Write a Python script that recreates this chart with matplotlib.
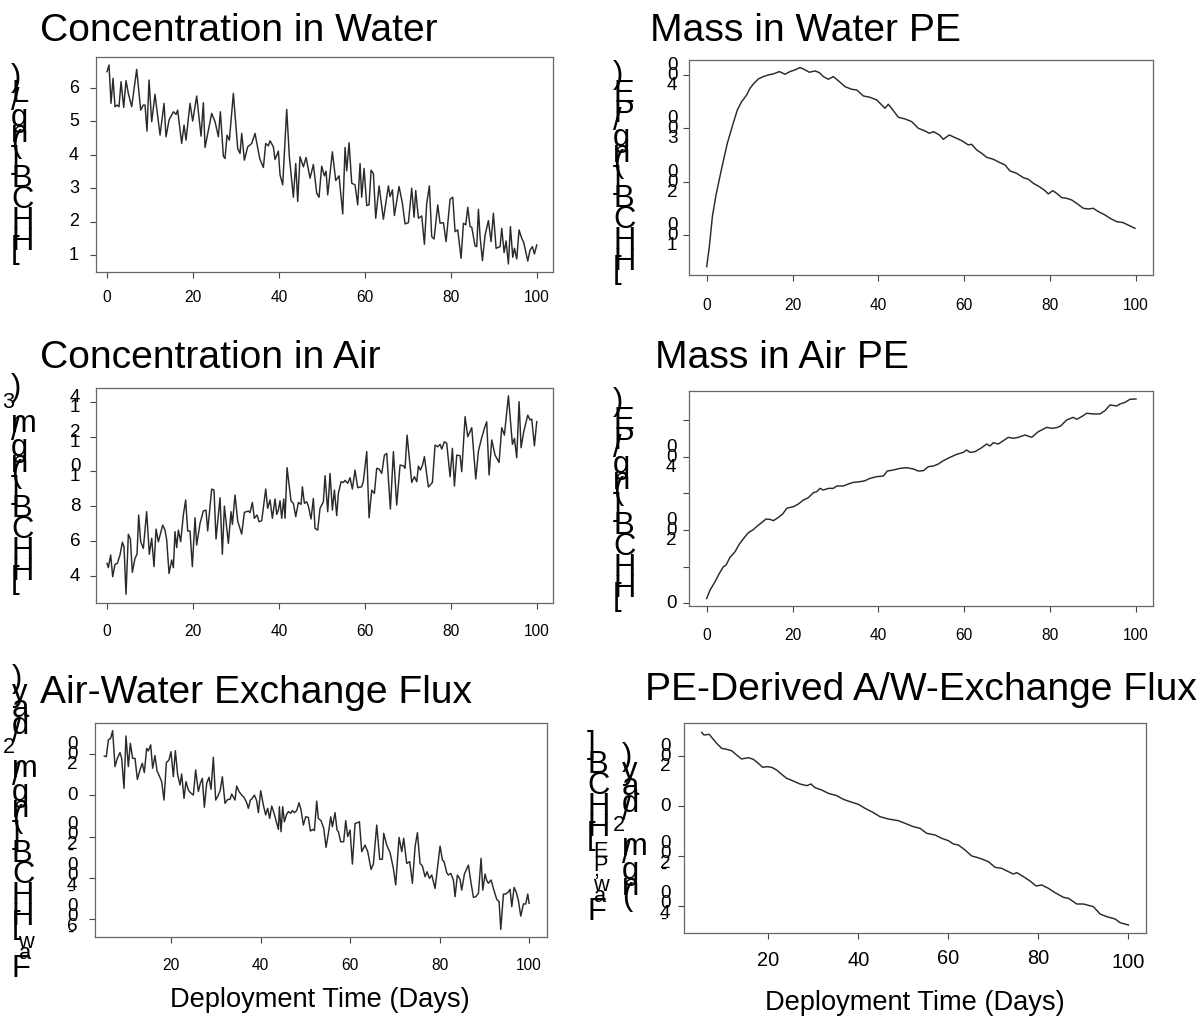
import matplotlib
matplotlib.use('Agg')
import matplotlib.pyplot as plt
from matplotlib.transforms import IdentityTransform

# ---------------- data ----------------
# Concentration in Water
days_cw = [0.00, 0.47, 0.93, 1.40, 1.86, 2.33, 2.79, 3.26, 3.88, 4.42,
           4.96, 5.74, 6.90, 7.83, 8.45, 8.84, 9.30, 9.77, 10.39, 11.16,
           12.33, 13.26, 13.72, 14.42, 15.43, 16.05, 16.43, 17.36, 17.91, 18.37,
           19.30, 19.92, 20.85, 21.86, 22.40, 22.79, 24.34, 25.12, 25.89, 26.36,
           27.05, 27.44, 27.91, 28.45, 29.38, 30.39, 30.93, 31.32, 31.94, 32.71,
           33.64, 34.42, 35.50, 36.36, 36.90, 37.52, 37.91, 38.68, 39.07, 39.84,
           40.23, 40.85, 41.78, 42.40, 43.33, 43.88, 44.34, 44.88, 45.66, 46.28,
           47.21, 47.98, 48.76, 49.30, 49.92, 50.54, 50.93, 51.32, 52.40, 53.18,
           53.95, 54.81, 55.35, 55.74, 56.28, 56.90, 57.67, 58.29, 58.84, 59.22,
           59.77, 60.39, 60.93, 61.40, 61.94, 62.48, 63.26, 64.26, 65.43, 65.81,
           66.36, 66.82, 67.91, 68.68, 69.30, 70.08, 70.85, 71.40, 71.78, 72.40,
           73.18, 73.80, 74.34, 74.96, 75.50, 76.05, 76.90, 77.44, 78.22, 78.84,
           79.77, 80.39, 80.93, 81.55, 82.33, 82.87, 83.41, 83.88, 84.42, 84.81,
           85.58, 85.97, 86.36, 86.74, 87.29, 87.91, 88.68, 89.30, 89.84, 90.47,
           91.40, 91.78, 92.33, 92.79, 93.33, 93.80, 94.34, 94.73, 95.27, 95.81,
           96.43, 96.90, 97.83, 98.37, 98.91, 99.38, 99.92]
conc_water = [6.49, 6.69, 5.54, 6.29, 5.44, 5.49, 5.44, 6.19, 5.42, 6.22,
              5.84, 5.44, 6.56, 5.34, 5.49, 5.49, 4.71, 6.24, 4.99, 5.81,
              4.59, 5.54, 4.54, 5.04, 5.29, 5.21, 5.34, 4.34, 4.89, 4.44,
              5.54, 5.01, 5.76, 4.56, 5.56, 4.22, 5.24, 4.99, 4.54, 5.29,
              3.96, 3.89, 4.59, 4.44, 5.84, 4.19, 4.04, 4.64, 3.84, 4.24,
              4.34, 4.64, 3.89, 3.62, 4.34, 4.27, 4.42, 4.24, 3.86, 4.11,
              3.40, 3.10, 5.36, 3.94, 2.73, 3.74, 2.60, 3.94, 3.64, 3.92,
              3.30, 3.71, 2.85, 2.73, 3.66, 3.37, 3.51, 2.80, 4.09, 3.23,
              3.37, 2.23, 4.22, 3.52, 4.36, 3.15, 3.10, 2.50, 3.74, 2.73,
              3.59, 2.48, 2.50, 3.54, 3.44, 2.10, 3.07, 2.07, 3.07, 2.75,
              2.95, 2.18, 3.05, 2.55, 1.93, 1.97, 3.00, 2.13, 2.93, 2.10,
              2.17, 1.32, 2.55, 3.07, 1.55, 1.48, 2.50, 1.95, 1.97, 1.40,
              2.67, 2.73, 1.70, 1.75, 0.90, 1.95, 1.90, 2.43, 1.85, 1.83,
              1.27, 1.25, 2.37, 1.55, 0.83, 1.60, 2.03, 1.40, 2.25, 1.20,
              1.25, 1.80, 1.07, 1.42, 0.73, 1.85, 0.93, 1.20, 0.88, 1.75,
              1.50, 1.37, 0.82, 1.15, 1.25, 1.03, 1.30]

# Concentration in Air
days_ca = [0.00, 0.31, 0.85, 1.32, 1.86, 2.40, 3.02, 3.57, 3.95, 4.42,
           4.96, 5.43, 5.89, 6.51, 6.98, 7.36, 7.83, 8.45, 9.22, 9.84,
           10.39, 10.93, 11.40, 11.94, 12.95, 13.49, 13.88, 14.42, 15.04, 15.43,
           15.81, 16.20, 16.59, 17.13, 17.75, 18.29, 18.76, 19.30, 19.84, 20.47,
           20.85, 21.63, 22.40, 23.02, 23.41, 24.34, 24.88, 25.35, 26.28, 26.82,
           27.29, 28.22, 28.84, 29.15, 29.77, 30.39, 31.32, 31.94, 32.87, 33.26,
           33.80, 34.26, 34.88, 35.35, 35.97, 36.90, 37.36, 37.91, 38.45, 39.07,
           39.46, 39.84, 40.23, 40.62, 41.09, 41.40, 41.86, 42.79, 43.33, 43.88,
           44.50, 45.12, 45.43, 45.89, 46.43, 46.82, 47.44, 47.98, 48.37, 48.99,
           49.53, 50.31, 50.70, 51.32, 51.86, 52.40, 52.87, 53.41, 53.80, 54.42,
           54.96, 55.35, 55.97, 56.51, 57.05, 57.67, 58.29, 59.22, 59.61, 60.39,
           60.93, 61.55, 62.17, 62.71, 63.26, 63.88, 64.50, 65.04, 65.89, 66.59,
           67.36, 68.14, 68.91, 69.30, 69.77, 70.85, 71.47, 72.02, 72.40, 72.87,
           73.41, 73.80, 74.73, 75.66, 76.28, 76.90, 77.44, 77.83, 78.45, 78.99,
           79.77, 80.31, 80.78, 81.32, 82.09, 82.48, 83.26, 83.88, 84.81, 85.74,
           86.36, 86.98, 87.75, 88.29, 88.84, 89.46, 90.23, 91.16, 91.78, 92.40,
           93.33, 94.26, 94.73, 95.27, 95.81, 96.28, 96.90, 97.83, 98.37, 98.76,
           99.38, 99.92]
conc_air = [4.71, 4.46, 5.19, 3.94, 4.65, 4.71, 5.19, 5.92, 5.67, 2.93,
            6.38, 6.11, 4.19, 5.00, 5.23, 7.49, 5.95, 5.57, 7.68, 5.23,
            6.15, 4.52, 6.68, 5.95, 6.91, 6.62, 6.05, 4.13, 4.90, 4.46,
            6.53, 5.61, 6.62, 5.95, 7.49, 8.35, 6.57, 6.57, 4.52, 7.33,
            5.76, 7.01, 7.72, 7.77, 6.57, 8.98, 8.92, 6.11, 8.48, 5.23,
            8.00, 5.86, 7.68, 6.95, 8.64, 7.14, 6.39, 7.64, 7.72, 7.62,
            8.21, 7.30, 7.49, 7.10, 7.16, 8.98, 7.87, 8.35, 7.30, 8.41,
            7.52, 7.77, 8.31, 7.30, 8.41, 7.30, 10.21, 8.29, 8.16, 7.39,
            8.21, 8.10, 9.11, 8.16, 8.25, 8.00, 7.26, 8.44, 6.72, 6.62,
            7.87, 8.25, 9.75, 7.68, 9.88, 7.77, 8.92, 7.45, 8.73, 9.40,
            9.36, 9.48, 9.31, 9.63, 8.98, 10.07, 9.06, 9.11, 9.44, 11.13,
            7.33, 8.92, 8.73, 10.17, 10.13, 9.88, 10.93, 11.03, 7.83, 11.13,
            8.06, 10.36, 10.32, 10.17, 12.08, 9.36, 9.69, 9.40, 10.30, 10.07,
            10.40, 10.84, 9.10, 9.36, 11.51, 11.41, 11.55, 11.28, 11.70, 11.61,
            9.69, 11.32, 9.15, 10.93, 10.90, 9.98, 13.14, 11.99, 12.51, 9.56,
            11.16, 11.80, 12.47, 12.85, 9.79, 11.80, 10.93, 10.51, 12.51, 12.08,
            14.34, 11.55, 11.89, 10.78, 14.00, 11.36, 12.28, 13.23, 12.95, 13.00,
            11.47, 12.85]

# Air-Water Exchange Flux
days_fx = [5.10, 5.55, 6.00, 6.52, 6.96, 7.49, 8.01, 8.60, 8.98, 9.50,
           9.94, 10.47, 10.91, 11.43, 11.96, 12.48, 13.07, 13.59, 14.04, 14.56,
           14.93, 15.46, 15.90, 16.42, 16.87, 17.39, 17.91, 18.44, 18.96, 19.55,
           20.00, 20.52, 20.97, 21.49, 22.01, 22.38, 22.91, 23.35, 23.87, 24.32,
           24.99, 25.51, 26.11, 26.55, 27.00, 27.45, 27.97, 28.49, 28.94, 29.46,
           29.98, 30.58, 31.02, 31.47, 32.07, 32.66, 33.18, 33.56, 34.30, 34.67,
           35.20, 35.79, 36.31, 36.91, 37.28, 37.73, 38.03, 38.62, 39.14, 39.52,
           40.04, 40.63, 41.15, 41.60, 42.05, 42.50, 43.02, 43.39, 43.99, 44.21,
           44.58, 44.95, 45.33, 45.77, 46.22, 46.74, 47.11, 47.56, 48.08, 48.60,
           49.05, 49.57, 50.09, 50.69, 51.14, 51.66, 52.03, 52.55, 52.92, 53.52,
           54.12, 54.64, 55.16, 55.68, 56.05, 56.65, 57.09, 57.39, 57.91, 58.58,
           59.03, 59.48, 60.00, 60.52, 61.12, 61.64, 62.09, 62.61, 63.35, 63.95,
           64.69, 65.21, 65.96, 66.63, 67.23, 67.52, 68.19, 68.94, 69.68, 70.20,
           70.95, 71.55, 71.99, 72.66, 73.33, 73.93, 74.53, 75.05, 75.64, 76.16,
           76.76, 77.21, 77.73, 78.25, 78.99, 80.11, 80.63, 81.01, 81.60, 81.97,
           82.50, 83.09, 83.46, 83.98, 84.58, 84.95, 85.55, 86.44, 87.04, 87.56,
           88.08, 88.68, 89.27, 89.65, 90.17, 90.54, 90.91, 91.51, 92.03, 92.77,
           93.30, 93.67, 94.27, 94.79, 95.39, 95.75, 96.13, 96.65, 97.09, 97.62,
           98.14, 98.73, 99.25, 99.70, 100.00]
flux_aw = [190, 187, 268, 276, 313, 139, 179, 207, 179, 34,
           287, 139, 252, 179, 179, 77, 123, 155, 110, 227,
           215, 244, 131, 192, 119, 94, 66, -23, 158, 171,
           211, 90, 216, 98, 50, 103, -15, 66, 26, 13,
           1, 123, 18, 58, 82, -58, 58, 87, 29, 184,
           -23, 1, 26, 90, -39, -20, -20, 6, -23, 45,
           18, 1, -10, -36, -63, -23, -18, 1, -26, -84,
           22, -47, -95, -63, -112, -52, -87, -116, -165, -55,
           -176, -55, -128, -95, -79, -87, -74, -84, -74, -36,
           -71, -144, -104, -107, -173, -165, -171, -28, -112, -123,
           -160, -252, -184, -104, -152, -84, -168, -176, -225, -225,
           -123, -200, -168, -333, -136, -133, -128, -273, -241, -273,
           -359, -333, -144, -310, -310, -184, -241, -278, -354, -434,
           -204, -273, -208, -330, -321, -426, -249, -181, -330, -342,
           -394, -370, -402, -386, -451, -246, -313, -321, -375, -386,
           -378, -410, -491, -386, -407, -459, -381, -338, -426, -494,
           -491, -475, -305, -459, -381, -413, -426, -410, -451, -504,
           -515, -649, -478, -478, -467, -455, -539, -446, -467, -510,
           -585, -526, -526, -478, -523]

# Mass in Water PE
days_mw = [0, 0.62, 1.32, 2.17, 3.49, 4.81, 6.06, 7.14, 8.15, 9.32,
           10.09, 11.02, 12.03, 13.20, 14.36, 15.53, 16.93, 18.25, 19.41, 20.57,
           21.74, 22.67, 23.91, 25.23, 26.24, 27.17, 28.34, 29.50, 30.90, 32.22,
           33.77, 34.94, 36.49, 38.04, 39.60, 40.76, 41.54, 42.31, 43.48, 44.64,
           46.20, 47.75, 49.30, 50.85, 51.86, 52.80, 54.19, 55.12, 56.52, 57.84,
           59.39, 60.95, 61.72, 62.89, 64.05, 65.22, 66.77, 68.32, 69.49, 70.65,
           72.20, 73.76, 74.92, 76.09, 77.48, 78.80, 79.58, 80.59, 81.52, 82.69,
           83.85, 85.02, 86.18, 87.73, 88.90, 90.06, 91.23, 92.78, 93.94, 95.50,
           97.05, 98.60, 99.77]
mass_water = [40.6, 78.1, 134.4, 175, 225, 271.9, 306.3, 334.4, 350, 362.5,
              375, 384.4, 392.5, 396.9, 400, 401.9, 406.3, 401.3, 406.3, 409.4,
              413.8, 410.6, 405, 407.5, 404.4, 396.9, 391.9, 396.9, 387.5, 378.1,
              373.1, 371.9, 360.6, 358.1, 353.1, 343.8, 337.5, 345, 333.1, 320.6,
              317.5, 312.5, 300, 295, 290.6, 293.8, 287.5, 279.4, 287.5, 282.5,
              276.9, 268.8, 270, 259.4, 253.1, 245.6, 241.9, 235.6, 231.3, 220,
              215.6, 207.5, 204.4, 196.9, 190.6, 183.1, 176.9, 183.1, 178.1, 170,
              168.8, 165.6, 159.4, 150, 148.8, 150, 143.8, 137.5, 131.3, 125,
              123.1, 116.9, 112.5]

# Mass in Air PE
days_ma = [0, 0.78, 1.94, 2.95, 3.88, 4.50, 5.43, 6.60, 7.61, 8.93,
           9.70, 10.71, 11.80, 13.04, 13.82, 14.75, 15.53, 16.69, 17.70, 18.63,
           19.41, 20.19, 21.35, 22.52, 23.68, 24.84, 25.62, 26.40, 27.17, 28.34,
           29.50, 30.28, 31.83, 33.00, 34.16, 35.71, 36.88, 38.04, 39.60, 41.15,
           42.08, 43.48, 45.03, 46.58, 48.14, 49.30, 50.47, 51.63, 52.80, 53.96,
           55.12, 56.68, 58.23, 59.78, 60.56, 61.34, 62.50, 64.05, 65.22, 66.00,
           66.77, 67.93, 69.10, 70.26, 71.43, 72.59, 74.15, 75.70, 77.25, 79.19,
           80.36, 81.52, 82.45, 83.85, 85.40, 86.18, 87.34, 88.51, 90.06, 91.61,
           92.78, 93.94, 95.50, 96.27, 97.44, 98.60, 100.0]
mass_air = [13.6, 36.4, 59.1, 81.8, 100, 104.5, 125.5, 140.9, 161.8, 181.8,
            192.7, 200, 210.9, 222.7, 230, 229.1, 225.5, 234.5, 243.6, 259.1,
            261.8, 263.6, 270.9, 281.8, 288.2, 301.8, 304.5, 313.6, 309.1, 313.6,
            313.6, 320, 320, 325.5, 330, 331.8, 334.5, 340.9, 345.5, 347.3,
            360.9, 363.6, 368.2, 370, 366.4, 360.9, 361.8, 372.7, 374.5, 380,
            389.1, 398.2, 406.4, 411.8, 418.2, 411.8, 413.6, 424.5, 434.5, 429.1,
            438.2, 434.5, 443.6, 452.7, 450, 452.7, 459.1, 452.7, 468.2, 480,
            477.3, 479.1, 483.6, 500, 507.3, 501.8, 509.1, 518.2, 516.4, 516.4,
            525.5, 540.9, 538.2, 543.6, 548.2, 556.4, 557.3]

# PE-Derived A/W-Exchange Flux
days_pf = [5.19, 5.70, 6.89, 7.41, 8.52, 9.63, 10.74, 11.85, 12.96, 14.07,
           15.56, 16.67, 17.78, 18.74, 19.78, 20.74, 21.85, 22.96, 24.07, 25.56,
           27.04, 28.52, 29.48, 30.37, 31.85, 33.33, 35.19, 36.67, 38.15, 40.00,
           41.48, 42.96, 44.81, 46.67, 48.89, 50.74, 52.22, 53.70, 55.19, 57.04,
           58.52, 60.00, 61.11, 62.22, 63.70, 65.19, 66.30, 67.41, 68.89, 70.37,
           71.85, 73.33, 74.44, 75.19, 76.67, 78.15, 79.48, 80.74, 82.22, 83.70,
           85.56, 86.67, 88.52, 90.00, 92.22, 93.70, 95.19, 97.04, 98.15, 100.0]
flux_pe = [294.7, 284, 286.7, 274.7, 250.7, 230.7, 226.7, 221.3, 204, 188,
           193.3, 186.7, 170.7, 154.7, 157.3, 154.7, 144, 126.7, 110.7, 100,
           88, 81.3, 88, 73.3, 64, 50.7, 41.3, 26.7, 17.3, 6.7,
           -9.3, -22.7, -42.7, -52, -58.7, -72, -82.7, -89.3, -109.3, -116,
           -129.3, -138.7, -152, -156, -176, -200, -205.3, -212, -222.7, -245.3,
           -249.3, -262.7, -272, -266.7, -282.7, -300, -320, -316, -329.3, -346.7,
           -365.3, -369.3, -392, -392, -402.7, -432, -442.7, -452, -466.7, -476]

titles = ["Concentration in Water", "Mass in Water PE", "Concentration in Air",
          "Mass in Air PE", "Air-Water Exchange Flux", "PE-Derived A/W-Exchange Flux"]
xlabel_text = "Deployment Time (Days)"

# ---------------- figure ----------------
W, H = 1199, 1016
FONT = 'Liberation Sans'
plt.rcParams['font.family'] = [FONT, 'DejaVu Sans']
fig = plt.figure(figsize=(W / 100, H / 100), dpi=100)
ID = IdentityTransform()

ADV = {'[': 0.278, ']': 0.278, '(': 0.333, ')': 0.333, 'H': 0.722, 'C': 0.722,
       'B': 0.667, ' ': 0.278, 'n': 0.556, 'g': 0.556, '/': 0.278, 'L': 0.556,
       'm': 0.833, 'P': 0.667, 'E': 0.667, 'F': 0.611, 'a': 0.556, 'w': 0.722,
       'd': 0.556, 'y': 0.5, ',': 0.278, '-': 0.333}


def adv(ch):
    return ADV.get(ch, 0.556)


def txt(x, y_img, s, size_px, **kw):
    fig.text(x, H - y_img, s, transform=ID, fontsize=size_px * 0.72,
             family=[FONT, 'DejaVu Sans'], color='black', **kw)


def norm(s):
    return [(c, 1.0, 0) for c in s]


def sup(s):
    return [(c, 0.7, -9) for c in s]


def sub(s):
    return [(c, 0.7, 6) for c in s]


def stack(x0, y_base, items, size_px, glyph=1.07):
    """Rotated label whose glyphs stayed upright: each glyph advances upward."""
    pen = y_base
    for ch, sc, dx in items:
        s = size_px * sc
        if ch != ' ':
            txt(x0 + dx, pen, ch, s * glyph, ha='left', va='baseline')
        pen -= adv(ch) * s


def make_axes(l, t, r, b, xlim, ylim):
    ax = fig.add_axes([l / W, 1 - b / H, (r - l) / W, (b - t) / H])
    ax.set_xlim(*xlim)
    ax.set_ylim(*ylim)
    for sp in ax.spines.values():
        sp.set_color('#666666')
        sp.set_linewidth(0.9)
    ax.tick_params(direction='out', length=4.5, width=0.8, color='#444444',
                   labelbottom=False, labelleft=False)
    return ax


def ytick_labels(ax, vals, labels, x0, size_px=18):
    for v, lab in zip(vals, labels):
        yc = H - ax.transData.transform((ax.get_xlim()[0], v))[1]
        total = sum(adv(c) for c in lab) * size_px
        stack(x0, yc + total / 2, norm(lab), size_px, glyph=1.05)


def xtick_labels(ax, vals, y_img, size_px=15.5, dy=None):
    ax.set_xticks(vals)
    for i, v in enumerate(vals):
        xd = ax.transData.transform((v, ax.get_ylim()[0]))[0]
        off = dy[i] if dy else 0
        txt(xd, y_img + off, str(v), size_px, ha='center', va='center')


LINE = dict(color='#2a2a2a', lw=1.05)

# Panel 1: Concentration in Water
ax1 = make_axes(96, 57, 553, 272, (-2.56, 103.7), (0.49, 6.93))
ax1.plot(days_cw, conc_water, **LINE)
ax1.set_yticks([1, 2, 3, 4, 5, 6])
ytick_labels(ax1, [1, 2, 3, 4, 5, 6], ['1', '2', '3', '4', '5', '6'], 69, 17)
xtick_labels(ax1, [0, 20, 40, 60, 80, 100], 298)
stack(11, 258, norm("[HHCB] (ng/L)"), 29)

# Panel 2: Concentration in Air
ax2 = make_axes(96, 388, 553, 603, (-2.56, 103.7), (2.43, 14.79))
ax2.plot(days_ca, conc_air, **LINE)
ax2.set_yticks([4, 6, 8, 10, 12, 14])
ytick_labels(ax2, [4, 6, 8, 10, 12, 14], ['4', '6', '8', '10', '12', '14'], 70)
xtick_labels(ax2, [0, 20, 40, 60, 80, 100], 632)
stack(11, 588, norm("[HHCB] (ng/m") + sup("3") + norm(")"), 29)

# Panel 3: Air-Water Exchange Flux
ax3 = make_axes(95, 723, 547, 937, (3.02, 104.0), (-686, 350))
ax3.plot(days_fx, flux_aw, **LINE)
ax3.set_yticks([-600, -400, -200, 0, 200])
ytick_labels(ax3, [-600, -400, -200, 0, 200], ['-600', '-400', '-200', '0', '200'], 67)
xtick_labels(ax3, [20, 40, 60, 80, 100], 966)
stack(12, 977, norm("F") + sub("aw") + norm("[HHCB] (ng/m") + sup("2") + norm("/day)"), 29)

# Panel 4: Mass in Water PE
ax4 = make_axes(689, 60, 1153, 275, (-4.12, 103.96), (25, 428))
ax4.plot(days_mw, mass_water, **LINE)
ax4.set_yticks([100, 200, 300, 400])
ytick_labels(ax4, [100, 200, 300, 400], ['100', '200', '300', '400'], 667)
xtick_labels(ax4, [0, 20, 40, 60, 80, 100], 305)
stack(613, 278, norm("[HHCB] (ng/PE)"), 29)

# Panel 5: Mass in Air PE
ax5 = make_axes(689, 391, 1153, 606, (-4.12, 103.96), (-7, 579))
ax5.plot(days_ma, mass_air, **LINE)
ax5.set_yticks([0, 100, 200, 300, 400, 500])
ytick_labels(ax5, [0, 200, 400], ['0', '200', '400'], 666)
xtick_labels(ax5, [0, 20, 40, 60, 80, 100], 636)
stack(613, 605, norm("[HHCB] (ng/PE)"), 29)

# Panel 6: PE-Derived A/W-Exchange Flux
ax6 = make_axes(684, 723, 1146, 933, (1.27, 103.9), (-508, 332))
ax6.plot(days_pf, flux_pe, **LINE)
ax6.set_yticks([-400, -200, 0, 200])
ytick_labels(ax6, [-400, -200, 0, 200], ['-400', '-200', '0', '200'], 660)
xtick_labels(ax6, [20, 40, 60, 80, 100], 960, size_px=20, dy=[1, 1, -2, -2, 2])
stack(587, 920, norm("F") + sub("aw,PE") + norm("[HHCB]"), 29)
stack(622, 905, norm("(ng/m") + sup("2") + norm("/day)"), 29)

# Titles
title_pos = [(40, 41), (650, 41), (40, 368), (655, 368), (40, 703), (645, 700)]
for (x, y), t in zip(title_pos, titles):
    txt(x, y, t, 39, ha='left', va='baseline')

# Bottom labels
txt(170, 1007, xlabel_text, 27.3, ha='left', va='baseline')
txt(765, 1010, xlabel_text, 27.3, ha='left', va='baseline')

fig.savefig('out.png', dpi=100)
